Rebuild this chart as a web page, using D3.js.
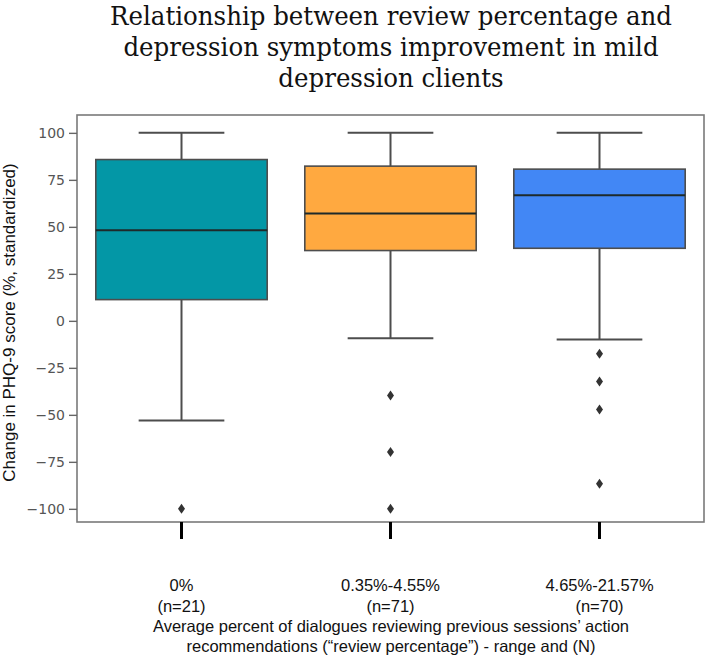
<!DOCTYPE html>
<html>
<head>
<meta charset="utf-8">
<script src="https://cdn.jsdelivr.net/npm/d3@7"></script>
<style>
  html, body { margin: 0; padding: 0; background: #fff; }
  svg { display: block; }
</style>
</head>
<body>
<svg id="chart" width="709" height="658"></svg>
<script>
// ---- data ----
const categories = ["0%", "0.35%-4.55%", "4.65%-21.57%"];
const counts = ["(n=21)", "(n=71)", "(n=70)"];
const whiskerLow = [-53, -9.2, -9.9];
const q1 = [11.3, 37.4, 38.6];
const median = [48.2, 57.1, 66.8];
const q3 = [85.8, 82.3, 80.7];
const whiskerHigh = [100, 100, 100];
const outliers = [[-100], [-39.7, -69.8, -100], [-17.5, -32.2, -47.1, -86.7]];
const boxColors = ["#0397a6", "#ffa940", "#4287f5"];
const yTicks = [100, 75, 50, 25, 0, -25, -50, -75, -100];
const titleLines = [
  "Relationship between review percentage and",
  "depression symptoms improvement in mild",
  "depression clients"
];
const yLabel = "Change in PHQ-9 score (%, standardized)";
const xLabelLines = [
  "Average percent of dialogues reviewing previous sessions\u2019 action",
  "recommendations (\u201creview percentage\u201d) - range and (N)"
];

// ---- layout ----
const svg = d3.select("#chart");
const frame = { left: 77, right: 704, top: 115, bottom: 522 };

const x = d3.scaleBand().domain(categories).range([frame.left, frame.right]).padding(0);
const y = d3.scaleLinear().domain([-107, 109.5]).range([frame.bottom, frame.top]);

const boxW = x.bandwidth() * 0.82;
const capW = x.bandwidth() * 0.41;
const edge = "#4d4d4d";

// title (slab-serif look: tall glyphs squeezed horizontally to the reference width)
const titleCx = 391;
const title = svg.append("g");
const tLines = title.selectAll("text").data(titleLines).enter().append("text")
  .attr("x", 0)
  .attr("y", 0)
  .attr("text-anchor", "middle")
  .style("font-family", "'DejaVu Serif', serif")
  .style("font-size", "26px")
  .style("fill", "#111")
  .text(d => d);
const w0 = tLines.nodes()[0].getComputedTextLength();
const sx = 562 / w0;
tLines.attr("transform", (d, i) => `translate(${titleCx},${25 + i * 31}) scale(${sx},1)`);

// frame
svg.append("rect")
  .attr("x", frame.left).attr("y", frame.top)
  .attr("width", frame.right - frame.left).attr("height", frame.bottom - frame.top)
  .attr("fill", "none").attr("stroke", "#7a7a7a").attr("stroke-width", 1.6);

// y axis
const yAxis = d3.axisLeft(y).tickValues(yTicks).tickSize(8).tickPadding(4)
  .tickFormat(d => d < 0 ? "\u2212" + Math.abs(d) : String(d));
const ya = svg.append("g").attr("transform", `translate(${frame.left},0)`).call(yAxis);
ya.select(".domain").remove();
ya.selectAll(".tick line").attr("stroke", "#666").attr("stroke-width", 1.4);
ya.selectAll(".tick text")
  .style("font-family", "'DejaVu Sans', sans-serif")
  .style("font-size", "14px")
  .style("fill", "#555");

// y label
svg.append("text")
  .attr("transform", `translate(15,${(frame.top + frame.bottom) / 2 + 4}) rotate(-90)`)
  .attr("text-anchor", "middle")
  .style("font-family", "'Liberation Sans', Arial, sans-serif")
  .style("font-size", "17px")
  .style("fill", "#111")
  .text(yLabel);

// boxes
const groups = svg.append("g").selectAll("g").data(categories).enter().append("g");
groups.each(function (c, i) {
  const g = d3.select(this);
  const cx = x(c) + x.bandwidth() / 2;
  g.append("line").attr("x1", cx).attr("x2", cx)
    .attr("y1", y(q1[i])).attr("y2", y(whiskerLow[i]))
    .attr("stroke", edge).attr("stroke-width", 2);
  g.append("line").attr("x1", cx).attr("x2", cx)
    .attr("y1", y(q3[i])).attr("y2", y(whiskerHigh[i]))
    .attr("stroke", edge).attr("stroke-width", 2);
  g.append("line").attr("x1", cx - capW / 2).attr("x2", cx + capW / 2)
    .attr("y1", y(whiskerLow[i])).attr("y2", y(whiskerLow[i]))
    .attr("stroke", edge).attr("stroke-width", 2);
  g.append("line").attr("x1", cx - capW / 2).attr("x2", cx + capW / 2)
    .attr("y1", y(whiskerHigh[i])).attr("y2", y(whiskerHigh[i]))
    .attr("stroke", edge).attr("stroke-width", 2);
  g.append("rect")
    .attr("x", cx - boxW / 2).attr("y", y(q3[i]))
    .attr("width", boxW).attr("height", y(q1[i]) - y(q3[i]))
    .attr("fill", boxColors[i]).attr("stroke", edge).attr("stroke-width", 1.6);
  g.append("line").attr("x1", cx - boxW / 2).attr("x2", cx + boxW / 2)
    .attr("y1", y(median[i])).attr("y2", y(median[i]))
    .attr("stroke", "#1e2a2a").attr("stroke-width", 1.8);
  g.selectAll("path.out").data(outliers[i]).enter().append("path")
    .attr("class", "out")
    .attr("d", d => `M${cx},${y(d) - 5}L${cx + 3.5},${y(d)}L${cx},${y(d) + 5}L${cx - 3.5},${y(d)}Z`)
    .attr("fill", "#333");
});

// x ticks below frame
const xAxis = d3.axisBottom(x).tickSize(17).tickFormat("");
const xa = svg.append("g").attr("transform", `translate(0,${frame.bottom})`).call(xAxis);
xa.select(".domain").remove();
xa.selectAll(".tick line").attr("stroke", "#000").attr("stroke-width", 3);

// x tick labels
const xl = svg.append("g");
categories.forEach((c, i) => {
  const cx = x(c) + x.bandwidth() / 2;
  const t = xl.append("text").attr("text-anchor", "middle")
    .style("font-family", "'Liberation Sans', Arial, sans-serif")
    .style("font-size", "16.5px").style("fill", "#111");
  t.append("tspan").attr("x", cx).attr("y", 591).text(c);
  t.append("tspan").attr("x", cx).attr("y", 612).text(counts[i]);
});

// x axis title
svg.append("g").selectAll("text").data(xLabelLines).enter().append("text")
  .attr("x", 391)
  .attr("y", (d, i) => 632 + i * 19.5)
  .attr("text-anchor", "middle")
  .style("font-family", "'Liberation Sans', Arial, sans-serif")
  .style("font-size", "16.5px")
  .style("fill", "#111")
  .text(d => d);
</script>
</body>
</html>
